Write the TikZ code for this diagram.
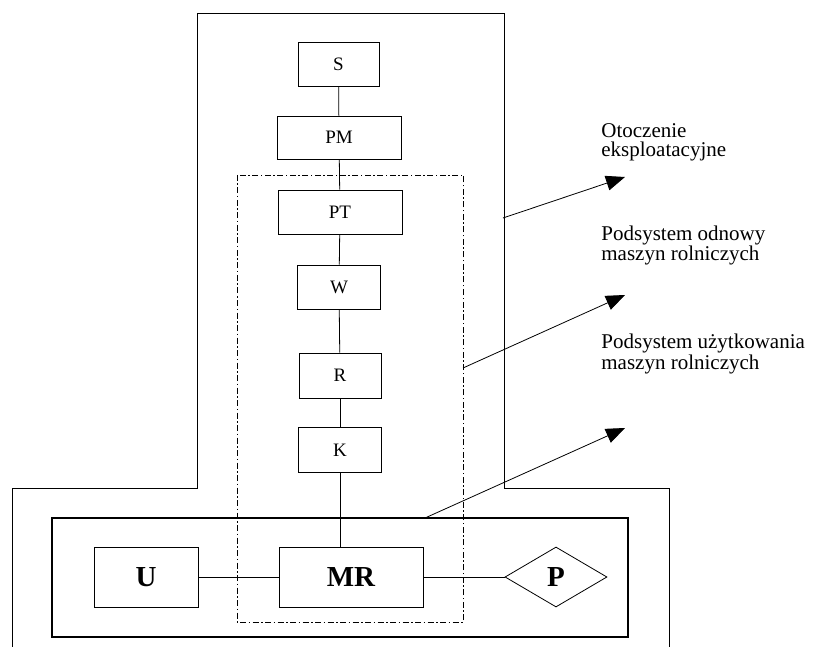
\documentclass[tikz,border=0pt]{standalone}
\usepackage{fontspec}
\setmainfont{Liberation Serif}
\usetikzlibrary{shapes.geometric,arrows.meta}

\begin{document}
\begin{tikzpicture}[x=1pt,y=-1pt,line width=0.8pt]
\useasboundingbox (0,0) rectangle (825,647);
% outer T-shaped frame and subsystem frames
\draw (12,647) -- (12,488) -- (197,488) -- (197,13) -- (504,13) -- (504,488) -- (669,488) -- (669,647);
\draw[line width=1.8pt] (52,518) rectangle (628,637);
\draw[dash pattern=on 6pt off 2.5pt on 1.5pt off 2.5pt] (237,175) rectangle (463,622);
 \begin{scope}[every node/.style={draw, fill=white, inner sep=0pt, font=\fontsize{19}{19}\selectfont}]
  \node[minimum width=81, minimum height=44] (s) at (338.5,64) {S};
  \node[minimum width=124, minimum height=43] (pm) at (339,137.5) {PM};
  \node[minimum width=124, minimum height=44] (pt) at (340,212) {PT};
  \node[minimum width=83, minimum height=44] (w) at (339,287) {W};
  \node[minimum width=82, minimum height=45] (r) at (340,375.5) {R};
  \node[minimum width=83, minimum height=45] (k) at (340,450) {K};
 \end{scope}
 \begin{scope}[every node/.style={draw, fill=white, inner sep=0pt, font=\fontsize{29}{29}\selectfont\bfseries}]
  \node[minimum width=144, minimum height=60] (mr) at (351,577) {MR};
  \node[minimum width=104, minimum height=60] (u) at (146,577) {U};
  \node[diamond, minimum width=102, minimum height=60] (p) at (556,577) {P};
 \end{scope}
  \path [-] (s) edge (pm);
  \path [-] (pm) edge (pt);
  \path [-] (pt) edge (w);
  \path [-] (w) edge (r);
  \path [-] (r) edge (k);
  \path [-] (k.south) edge (k.south |- mr.north);
  \path [-] (u) edge (mr);
  \path [-] (mr) edge (p);
% pointers to the descriptions
\coordinate (env) at (503,218);
\coordinate (ren) at (463,368);
\coordinate (use) at (425,518);
 \begin{scope}[every node/.style={anchor=base west, align=left, inner sep=0pt, font=\fontsize{21}{19}\selectfont}]
  \node (envlabel) at (601,157) {Otoczenie\\eksploatacyjne};
  \node (renlabel) at (601,261) {Podsystem odnowy\\maszyn rolniczych};
  \node (uselabel) at (601,369) {Podsystem użytkowania\\maszyn rolniczych};
 \end{scope}
\coordinate (envtip) at (625,177);
\coordinate (rentip) at (625,295);
\coordinate (usetip) at (625,428);
  \draw[-{Triangle[length=19pt,width=15pt]}] (env) -- (envtip);
  \draw[-{Triangle[length=19pt,width=15pt]}] (ren) -- (rentip);
  \draw[-{Triangle[length=19pt,width=15pt]}] (use) -- (usetip);
\end{tikzpicture}
\end{document}
